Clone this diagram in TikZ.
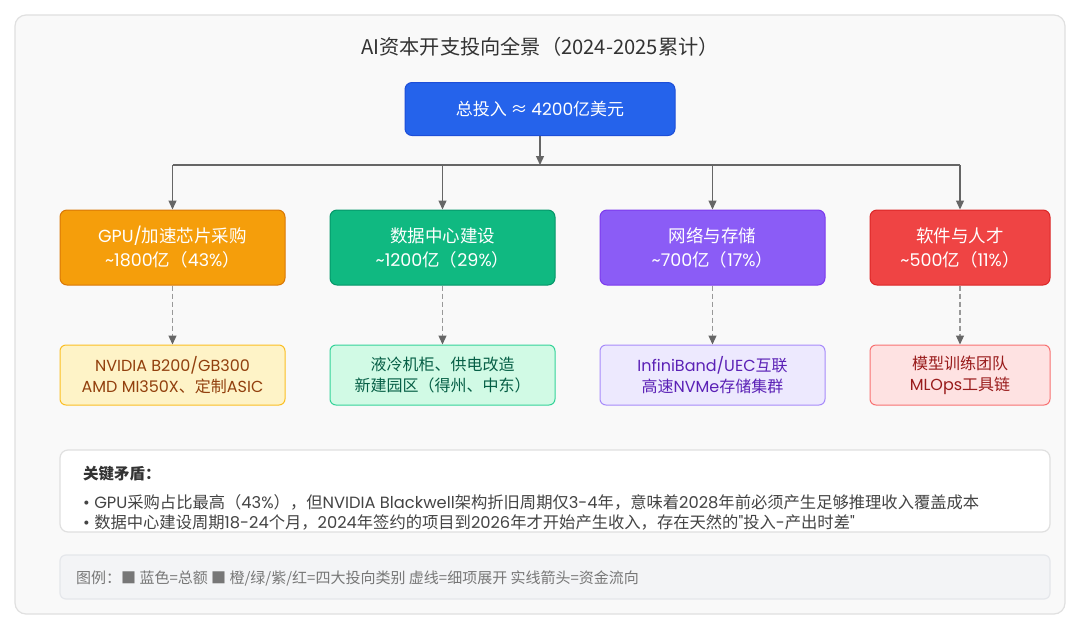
\documentclass[tikz,border=0pt]{standalone}
\usepackage{fontspec}
\setmainfont{Noto Sans CJK SC}
\newfontfamily\latf{Poppins}
\newcommand{\lat}[1]{{\latf #1}}
\usetikzlibrary{arrows.meta}
\definecolor{bordergray}{HTML}{E0E0E0}
\definecolor{panelbg}{HTML}{F9F9F9}
\definecolor{titlec}{HTML}{333333}
\definecolor{linec}{HTML}{666666}
\definecolor{dashc}{HTML}{999999}
\definecolor{blueF}{HTML}{2563EB}\definecolor{blueB}{HTML}{1D4ED8}
\definecolor{orF}{HTML}{F59E0B}\definecolor{orB}{HTML}{D97706}
\definecolor{grF}{HTML}{10B981}\definecolor{grB}{HTML}{059669}
\definecolor{puF}{HTML}{8B5CF6}\definecolor{puB}{HTML}{7C3AED}
\definecolor{reF}{HTML}{EF4444}\definecolor{reB}{HTML}{DC2626}
\definecolor{orL}{HTML}{FEF3C7}\definecolor{orT}{HTML}{92400E}\definecolor{orLB}{HTML}{FBBF24}
\definecolor{grL}{HTML}{D1FAE5}\definecolor{grT}{HTML}{065F46}\definecolor{grLB}{HTML}{34D399}
\definecolor{puL}{HTML}{EDE9FE}\definecolor{puT}{HTML}{5B21B6}\definecolor{puLB}{HTML}{A78BFA}
\definecolor{reL}{HTML}{FEE2E2}\definecolor{reT}{HTML}{991B1B}\definecolor{reLB}{HTML}{F87171}
\definecolor{notetext}{HTML}{444444}
\definecolor{legbg}{HTML}{F3F4F6}\definecolor{legB}{HTML}{E5E7EB}\definecolor{legT}{HTML}{777777}
\tikzset{
  x=1pt,y=-1pt,
  catbox/.style={rounded corners=7pt, line width=1pt, minimum width=225pt, minimum height=75pt,
    text=white, align=center, font=\fontsize{17.5}{24}\selectfont, inner sep=0pt},
  detbox/.style={rounded corners=6pt, line width=1pt, minimum width=225pt, minimum height=60pt,
    align=center, font=\fontsize{16}{21}\selectfont, inner sep=0pt},
  flow/.style={draw=linec, line width=1.3pt},
  flowarrow/.style={flow, -{Triangle[length=9pt,width=8pt]}},
  dasharrow/.style={draw=dashc, line width=1.2pt, dash pattern=on 5pt off 3pt, -{Triangle[length=9pt,width=8pt,fill=linec,color=linec]}},
  notetxt/.style={anchor=west, text=notetext, font=\fontsize{16.3}{19}\selectfont, inner sep=0pt},
}
\begin{document}
\begin{tikzpicture}
\useasboundingbox (0,0) rectangle (1080,630);
\fill[white] (0,0) rectangle (1080,630);
\draw[draw=bordergray, fill=panelbg, line width=1.2pt, rounded corners=11pt] (15,15) rectangle (1065,614);

\node[text=titlec, font=\fontsize{20.2}{24}\selectfont] (title) at (540,47) {AI资本开支投向全景（2024-2025累计）};

\node[fill=blueF, draw=blueB, line width=1pt, rounded corners=7pt, minimum width=270pt, minimum height=53pt,
  text=white, font=\fontsize{17}{20}\selectfont, inner sep=0pt] (total) at (540,109) {总投入 ≈ \lat{4200}亿美元};

\node[catbox, fill=orF, draw=orB] (c1) at (172.5,247.5) {\lat{GPU/}加速芯片采购\\\lat{\textasciitilde1800}亿（\lat{43\%}）};
\node[catbox, fill=grF, draw=grB] (c2) at (442.5,247.5) {数据中心建设\\\lat{\textasciitilde1200}亿（\lat{29\%}）};
\node[catbox, fill=puF, draw=puB] (c3) at (712.5,247.5) {网络与存储\\\lat{\textasciitilde700}亿（\lat{17\%}）};
\node[catbox, fill=reF, draw=reB, minimum width=180pt] (c4) at (960,247.5) {软件与人才\\\lat{\textasciitilde500}亿（\lat{11\%}）};

\node[detbox, fill=orL, draw=orLB, text=orT] (d1) at (172.5,375) {\lat{NVIDIA B200/GB300}\\\lat{AMD MI350X}、定制\lat{ASIC}};
\node[detbox, fill=grL, draw=grLB, text=grT] (d2) at (442.5,375) {液冷机柜、供电改造\\新建园区（得州、中东）};
\node[detbox, fill=puL, draw=puLB, text=puT] (d3) at (712.5,375) {\lat{InfiniBand/UEC}互联\\高速\lat{NVMe}存储集群};
\node[detbox, fill=reL, draw=reLB, text=reT, minimum width=180pt] (d4) at (960,375) {模型训练团队\\\lat{MLOps}工具链};

% connectors
\coordinate (j) at (540,165);
\coordinate (jl) at (172.5,165);
\coordinate (j2) at (442.5,165);
\coordinate (j3) at (712.5,165);
\coordinate (jr) at (960,165);
\draw[flowarrow] (total.south) -- (j);
\draw[flow] (jl) -- (jr);
\draw[flowarrow] (jl) -- (c1.north);
\draw[flowarrow] (j2) -- (c2.north);
\draw[flowarrow] (j3) -- (c3.north);
\draw[flowarrow] (jr) -- (c4.north);

\draw[dasharrow] (c1.south) -- (d1.north);
\draw[dasharrow] (c2.south) -- (d2.north);
\draw[dasharrow] (c3.south) -- (d3.north);
\draw[dasharrow] (c4.south) -- (d4.north);

% notes
\node[draw=bordergray, fill=white, line width=1.2pt, rounded corners=8pt, minimum width=990pt, minimum height=82pt, inner sep=0pt] (notes) at (555,491) {};
\node[anchor=west, text=titlec, font=\bfseries\fontsize{15.5}{18}\selectfont, inner sep=0pt] (nh) at (83,474) {关键矛盾：};
\node[notetxt] (n1) at (83,502) {\lat{• GPU}采购占比最高（\lat{43\%}），但\lat{NVIDIA Blackwell}架构折旧周期仅\lat{3-4}年，意味着\lat{2028}年前必须产生足够推理收入覆盖成本};
\node[notetxt] (n2) at (83,522) {\lat{• }数据中心建设周期\lat{18-24}个月，\lat{2024}年签约的项目到\lat{2026}年才开始产生收入，存在天然的\lat{"}投入\lat{-}产出时差\lat{"}};

% legend
\node[draw=legB, fill=legbg, line width=1.2pt, rounded corners=6pt, minimum width=990pt, minimum height=44pt, inner sep=0pt] (legend) at (555,577) {};
\node[anchor=west, text=legT, font=\fontsize{15}{17}\selectfont, inner sep=0pt] (lt) at (76,578) {图例：■ 蓝色=总额 ■ 橙/绿/紫/红=四大投向类别 虚线=细项展开 实线箭头=资金流向};
\end{tikzpicture}
\end{document}
